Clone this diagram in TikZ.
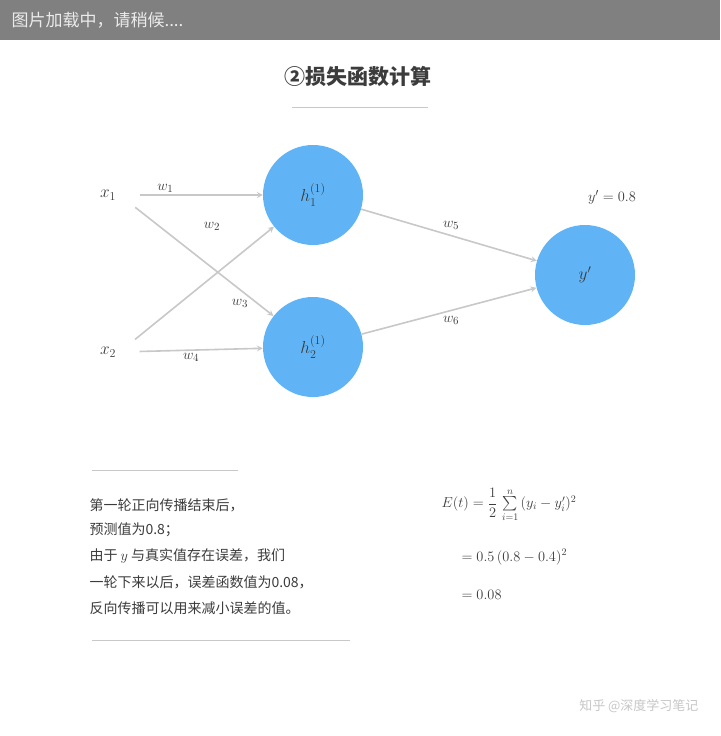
\documentclass[tikz,border=0pt]{standalone}
\usepackage{fontspec}
\usepackage{amsmath}
\newfontfamily\cjk{Noto Sans CJK SC}
\usetikzlibrary{arrows}
\definecolor{barc}{RGB}{128,128,128}
\definecolor{nblue}{RGB}{96,180,246}
\definecolor{edgec}{RGB}{200,200,200}
\definecolor{txtc}{RGB}{60,60,60}
\definecolor{faint}{RGB}{200,200,200}

\begin{document}
\begin{tikzpicture}[x=1pt,y=-1pt,>=stealth,
    neuron/.style={circle,fill=nblue,minimum size=100pt,inner sep=0pt,
      text=txtc,font=\fontsize{17}{17}\selectfont},
    inp/.style={text=txtc,font=\fontsize{17}{17}\selectfont},
    edge/.style={->,draw=edgec,line width=1.6pt,shorten <=20pt},
    wlab/.style={text=txtc,font=\fontsize{15}{15}\selectfont,inner sep=2pt},
    cn/.style={text=txtc,anchor=west,font=\cjk\fontsize{14}{14}\selectfont}]
  \useasboundingbox (0,0) rectangle (720,736);
  \fill[white] (0,0) rectangle (720,736);
  % loading bar
  \fill[barc] (0,0) rectangle (720,40);
  \node[anchor=west,text=white!92!black,font=\cjk\fontsize{17}{17}\selectfont] (bar) at (8,20) {图片加载中，请稍候....};
  % title
  \node[text=txtc,font=\cjk\bfseries\fontsize{21}{21}\selectfont] (title) at (358,76) {②损失函数计算};
  \draw[faint,line width=0.6pt] (292,107) -- (428,107);
  % network
  \node[inp] (x1) at (108,195) {$x_1$};
  \node[inp] (x2) at (108,352) {$x_2$};
  \node[neuron] (h1) at (313,195) {$h_1^{(1)}$};
  \node[neuron] (h2) at (313,347) {$h_2^{(1)}$};
  \node[neuron] (o) at (585,275) {$y'$};
  \draw[edge] (x1.east) -- (h1) node[wlab,pos=0.32,above] {$w_1$};
  \draw[edge] (x1.east) -- (h2);
  \draw[edge] (x2.east) -- (h1);
  \draw[edge] (x2.east) -- (h2) node[wlab,pos=0.5,below] {$w_4$};
  \node[wlab] (w2) at (212,226) {$w_2$};
  \node[wlab] (w3) at (240,303) {$w_3$};
  \draw[edge,shorten <=0pt] (h1) -- (o) node[wlab,pos=0.45,above right] {$w_5$};
  \draw[edge,shorten <=0pt] (h2) -- (o) node[wlab,pos=0.45,below right] {$w_6$};
  \node[wlab] (yv) at (612,197) {$y'=0.8$};
  % explanation
  \draw[faint,line width=0.6pt] (92,470) -- (238,470);
  \node[cn] (l1) at (86,505) {第一轮正向传播结束后，};
  \node[cn] (l2) at (86,530) {预测值为0.8；};
  \node[cn] (l3) at (86,556) {由于 $y$ 与真实值存在误差，我们};
  \node[cn] (l4) at (86,582) {一轮下来以后，误差函数值为0.08，};
  \node[cn] (l5) at (86,608) {反向传播可以用来减小误差的值。};
  \draw[faint,line width=0.6pt] (92,640) -- (350,640);
  % loss
  \node[anchor=west,text=txtc,font=\fontsize{14}{14}\selectfont] (f1) at (438,505)
    {$E(t)=\dfrac{1}{2}\,\sum\limits_{i=1}^{n}\,(y_i-y_i')^2$};
  \node[anchor=west,text=txtc,font=\fontsize{14}{14}\selectfont] (f2) at (458,557)
    {$=0.5\,(0.8-0.4)^2$};
  \node[anchor=west,text=txtc,font=\fontsize{14}{14}\selectfont] (f3) at (458,595)
    {$=0.08$};
  % watermark
  \node[anchor=east,text=black!22,font=\cjk\fontsize{13}{13}\selectfont] (wm) at (702,706) {知乎 @深度学习笔记};
\end{tikzpicture}
\end{document}
